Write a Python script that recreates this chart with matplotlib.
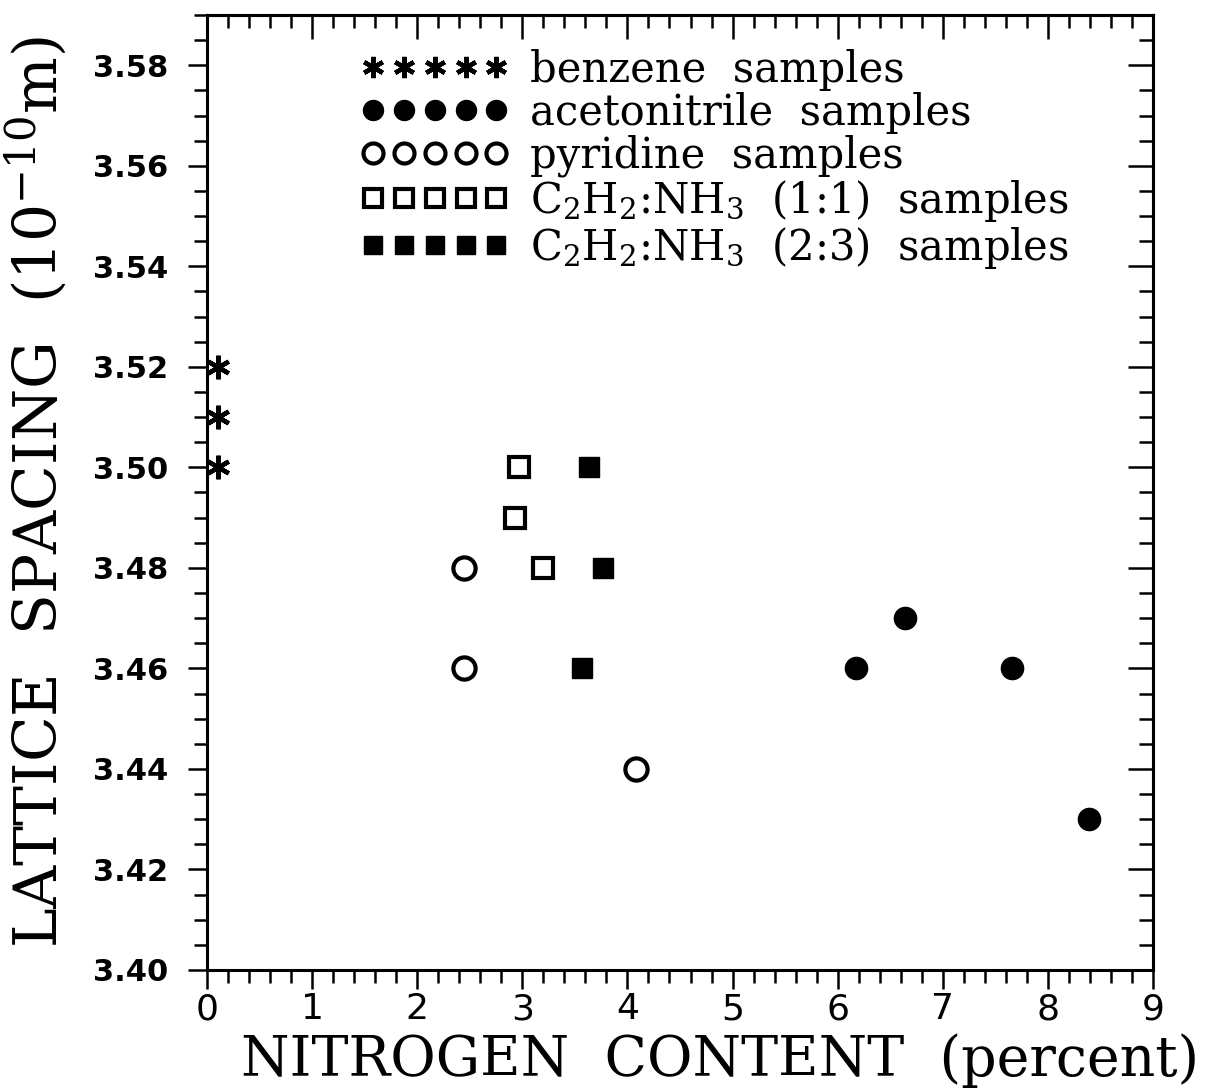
import numpy as np
import matplotlib
matplotlib.use("Agg")
import matplotlib.pyplot as plt
from matplotlib.ticker import MultipleLocator, FormatStrFormatter

# nitrogen content (percent) vs lattice spacing (1e-10 m)
benzene_x = [0.1, 0.1, 0.1]
benzene_y = [3.52, 3.51, 3.50]

acetonitrile_x = [6.17, 6.64, 7.66, 8.39]
acetonitrile_y = [3.46, 3.47, 3.46, 3.43]

pyridine_x = [2.44, 2.44, 4.08]
pyridine_y = [3.48, 3.46, 3.44]

ammonia11_x = [2.97, 2.93, 3.20]
ammonia11_y = [3.50, 3.49, 3.48]

ammonia23_x = [3.63, 3.77, 3.57]
ammonia23_y = [3.50, 3.48, 3.46]

labels = ["benzene  samples",
          "acetonitrile  samples",
          "pyridine  samples",
          r"C$_2$H$_2$:NH$_3$  (1:1)  samples",
          r"C$_2$H$_2$:NH$_3$  (2:3)  samples"]

plt.rcParams['mathtext.fontset'] = 'dejavuserif'
plt.rcParams['xtick.labelsize'] = 26
plt.rcParams['ytick.labelsize'] = 22

fig = plt.figure(figsize=(12.13, 10.88), dpi=100)
ax = fig.add_axes([0.1707, 0.1085, 0.7798, 0.8777])

ms = 16
ax.plot(benzene_x, benzene_y, linestyle='none', marker=(6, 2, 0), ms=ms + 1,
        mew=3.2, color='black', label=labels[0])
ax.plot(acetonitrile_x, acetonitrile_y, linestyle='none', marker='o', ms=ms,
        color='black', label=labels[1])
ax.plot(pyridine_x, pyridine_y, linestyle='none', marker='o', ms=ms,
        mfc='white', mec='black', mew=3, label=labels[2])
ax.plot(ammonia11_x, ammonia11_y, linestyle='none', marker='s', ms=ms - 1,
        mfc='white', mec='black', mew=3, label=labels[3])
ax.plot(ammonia23_x, ammonia23_y, linestyle='none', marker='s', ms=ms - 1,
        color='black', label=labels[4])

ax.set_xlim(0, 9)
ax.set_ylim(3.40, 3.59)
ax.xaxis.set_major_locator(MultipleLocator(1))
ax.xaxis.set_minor_locator(MultipleLocator(0.2))
ax.yaxis.set_major_locator(MultipleLocator(0.02))
ax.yaxis.set_minor_locator(MultipleLocator(0.005))
ax.yaxis.set_major_formatter(FormatStrFormatter('%.2f'))

for s in ax.spines.values():
    s.set_linewidth(2.2)

# left/bottom ticks stick out
ax.tick_params(which='both', direction='out', width=1.8, top=False, right=False)
ax.tick_params(which='major', length=14)
ax.tick_params(which='minor', length=9.5)
ax.tick_params(axis='y', which='major', pad=14)
ax.tick_params(axis='x', which='major', pad=2)
for lab in ax.get_yticklabels():
    lab.set_fontweight('bold')

# top/right ticks point in
top = ax.secondary_xaxis('top')
top.xaxis.set_major_locator(MultipleLocator(1))
top.xaxis.set_minor_locator(MultipleLocator(0.2))
top.tick_params(which='both', direction='in', width=1.8, labeltop=False)
top.tick_params(which='major', length=17)
top.tick_params(which='minor', length=9.5)
right = ax.secondary_yaxis('right')
right.yaxis.set_major_locator(MultipleLocator(0.02))
right.yaxis.set_minor_locator(MultipleLocator(0.005))
right.tick_params(which='both', direction='in', width=1.8, labelright=False)
right.tick_params(which='major', length=18)
right.tick_params(which='minor', length=10)
for sec in (top, right):
    for s in sec.spines.values():
        s.set_linewidth(2.2)

ax.set_xlabel("NITROGEN  CONTENT  (percent)", family='DejaVu Serif',
              fontsize=40)
ax.xaxis.set_label_coords(0.542, -0.066)
ax.set_ylabel(r"LATTICE  SPACING  (10$^{-10}$m)", family='DejaVu Serif',
              fontsize=43)
ax.yaxis.set_label_coords(-0.146, 0.5)

leg = ax.legend(loc='upper left', bbox_to_anchor=(0.145, 0.982), frameon=False,
                numpoints=5, markerscale=0.9, handlelength=3.55,
                handletextpad=0.5, labelspacing=0.02, borderaxespad=0,
                prop={'family': 'DejaVu Serif', 'size': 30})

fig.savefig("out.png", dpi=100)
